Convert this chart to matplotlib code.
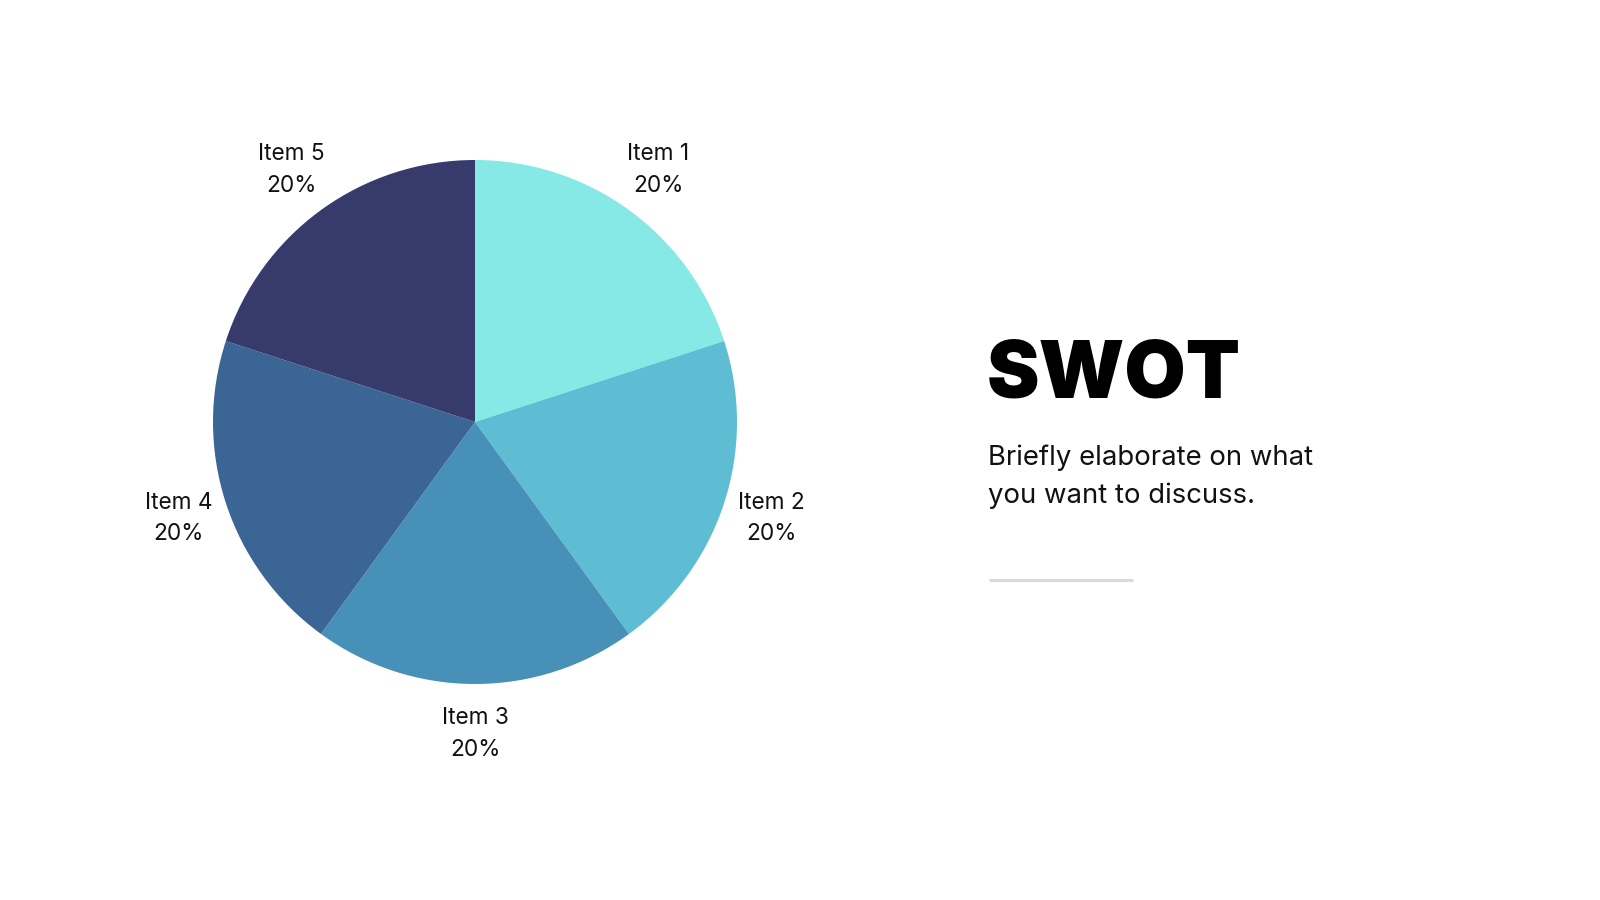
import matplotlib.pyplot as plt

# Datos del gráfico
items = ['Item 1', 'Item 2', 'Item 3', 'Item 4', 'Item 5']
shares = [20, 20, 20, 20, 20]
colors = ['#87e9e6', '#5ebcd3', '#4791b9', '#3b6595', '#363b6b']

title = 'SWOT'
subtitle = ['Briefly elaborate on what', 'you want to discuss.']

W, H = 1600, 900
fig = plt.figure(figsize=(16, 9), dpi=100)
ax = fig.add_axes([0, 0, 1, 1])

labels = [f'{n}\n{v}%' for n, v in zip(items, shares)]
wedges, texts = ax.pie(shares, labels=labels, colors=colors, startangle=90,
                       counterclock=False, center=(475, H - 422), radius=262,
                       labeldistance=1.19, frame=True,
                       textprops=dict(fontsize=16.3, family='Inter', color='#111111',
                                      linespacing=1.57))
for t in texts:
    t.set_ha('center')
    t.set_va('center')
    t.set_multialignment('center')

ax.set_xlim(0, W)
ax.set_ylim(0, H)
ax.set_aspect('equal')
ax.axis('off')

# Texto de la derecha
ax.text(987, H - 397, title, fontsize=57, fontweight='black', family='Inter',
        va='baseline', ha='left', color='#000000')
for i, line in enumerate(subtitle):
    ax.text(988, H - 465 - 38 * i, line, fontsize=19.8, family='Inter',
            va='baseline', ha='left', color='#111111')
ax.plot([989, 1133], [H - 580, H - 580], color='#d9d9d9', lw=2.2,
        solid_capstyle='butt')

plt.savefig('out.png', dpi=100)
